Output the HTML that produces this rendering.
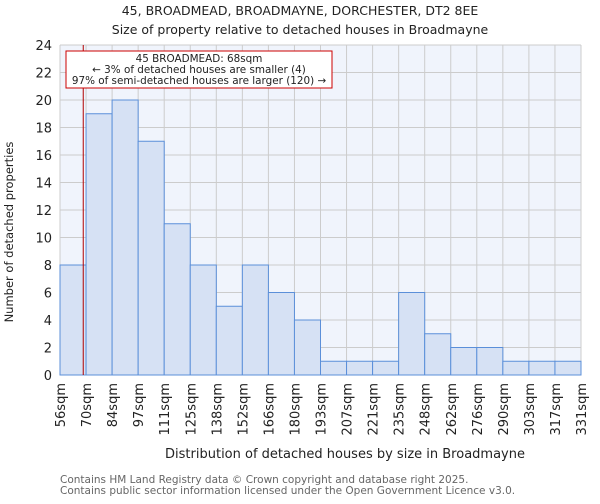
<!DOCTYPE html>
<html><head><meta charset="utf-8"><style>
body{margin:0;background:#fff;font-family:"DejaVu Sans","Liberation Sans",sans-serif}
svg text{font-family:"DejaVu Sans","Liberation Sans",sans-serif}
</style></head><body>
<svg id="chart" width="600" height="500" xmlns="http://www.w3.org/2000/svg">
<text x="300" y="15" text-anchor="middle" font-size="12.5" fill="#222">45, BROADMEAD, BROADMAYNE, DORCHESTER, DT2 8EE</text>
<text x="300" y="34" text-anchor="middle" font-size="12.5" fill="#222">Size of property relative to detached houses in Broadmayne</text>
<rect x="60" y="45" width="521" height="330" fill="#f0f4fc"/>
<g id="grid"></g>
<g id="bars"></g>
<g id="axes"></g>
<text transform="translate(13,232) rotate(-90)" text-anchor="middle" font-size="11.5" fill="#222">Number of detached properties</text>
<text x="345" y="458" text-anchor="middle" font-size="13" fill="#222">Distribution of detached houses by size in Broadmayne</text>
<text x="60" y="483" font-size="10.5" fill="#666">Contains HM Land Registry data © Crown copyright and database right 2025.</text>
<text x="60" y="494" font-size="10.5" fill="#666">Contains public sector information licensed under the Open Government Licence v3.0.</text>
</svg>
<script>
const categories=["56sqm","70sqm","84sqm","97sqm","111sqm","125sqm","138sqm","152sqm","166sqm","180sqm","193sqm","207sqm","221sqm","235sqm","248sqm","262sqm","276sqm","290sqm","303sqm","317sqm","331sqm"];
const counts=[8,19,20,17,11,8,5,8,6,4,1,1,1,6,3,2,2,1,1,1];
const yTicks=[0,2,4,6,8,10,12,14,16,18,20,22,24];
const propertySize=68;
const binStart=56, binWidth=13.75;
const NS="http://www.w3.org/2000/svg";
const L=60,R=581,T=45,B=375,yMax=24;
const bw=(R-L)/counts.length;
const xi=i=>L+i*bw;
const y=v=>B-(v/yMax)*(B-T);
const xv=v=>L+(v-binStart)/binWidth*bw;
function mk(tag,attrs,parent){const e=document.createElementNS(NS,tag);for(const k in attrs)e.setAttribute(k,attrs[k]);parent.appendChild(e);return e;}
const grid=document.getElementById('grid'),bars=document.getElementById('bars'),axes=document.getElementById('axes');
yTicks.forEach(t=>{
 const g=mk('line',{x1:L,x2:R,y1:y(t),y2:y(t),stroke:'#cccccc','stroke-width':1},grid);
 
 
 const tx=mk('text',{x:L-8,y:y(t)+5,'text-anchor':'end','font-size':13,fill:'#222'},axes);
 tx.textContent=t;
 
 
});
categories.forEach((c,i)=>{
 const g=mk('line',{x1:xi(i),x2:xi(i),y1:T,y2:B,stroke:'#cccccc','stroke-width':1},grid);
 
 
 const tx=mk('text',{transform:`translate(${xi(i)+5},${B+8}) rotate(-90)`,'text-anchor':'end','font-size':13,fill:'#222'},axes);
 tx.textContent=c;
 
 
});
counts.forEach((v,i)=>{
 const r=mk('rect',{x:xi(i),y:y(v),width:bw,height:B-y(v),fill:'#d6e1f4',stroke:'#5b8fd9','stroke-width':1},bars);
 
 
});
const px=xv(propertySize)+0.5;
const ml=mk('line',{x1:px,x2:px,y1:T,y2:B,stroke:'#b00000','stroke-width':1},axes);


const box=mk('rect',{x:66,y:51,width:266,height:37,fill:'#fff',stroke:'#cc0000','stroke-width':1},axes);


["45 BROADMEAD: 68sqm","← 3% of detached houses are smaller (4)","97% of semi-detached houses are larger (120) →"].forEach((s,k)=>{
 const t=mk('text',{x:199,y:62+k*11,'text-anchor':'middle','font-size':10.4,fill:'#222'},axes);
 t.textContent=s;
 
 
});
</script>
</body></html>
